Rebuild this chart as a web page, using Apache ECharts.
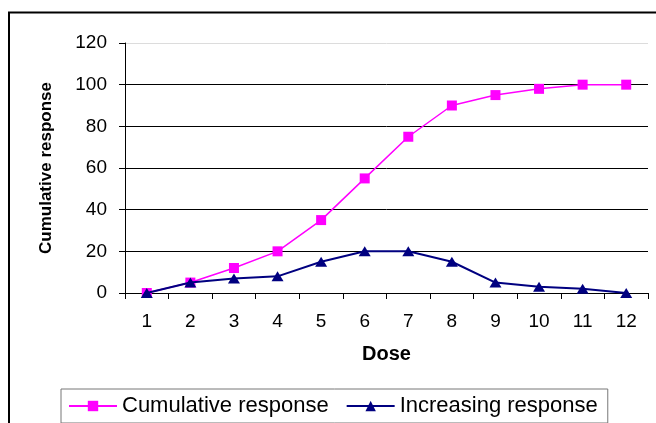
<!DOCTYPE html>
<html>
<head>
<meta charset="utf-8">
<script src="https://cdn.jsdelivr.net/npm/echarts@6/dist/echarts.min.js"></script>
<style>
  html, body { margin: 0; padding: 0; background: #fff; }
  #chart { width: 656px; height: 423px; }
</style>
</head>
<body>
<div id="chart"></div>
<script>
// Dose levels and the two response curves
const doses = ['1', '2', '3', '4', '5', '6', '7', '8', '9', '10', '11', '12'];
const cumulativeResponse = [0, 5, 12, 20, 35, 55, 75, 90, 95, 98, 100, 100];
const increasingResponse = [0, 5, 7, 8, 15, 20, 20, 15, 5, 3, 2, 0];
const seriesNames = ['Cumulative response', 'Increasing response'];

const FONT = '"Liberation Sans", Arial, sans-serif';

const chart = echarts.init(document.getElementById('chart'), null, { renderer: 'canvas' });

chart.setOption({
  backgroundColor: '#ffffff',
  animation: false,
  textStyle: { fontFamily: FONT },
  graphic: [{
    type: 'rect',
    silent: true,
    z: -10,
    shape: { x: 9, y: 12.5, width: 720, height: 500 },
    style: { fill: 'none', stroke: '#000', lineWidth: 2 }
  }],
  grid: { left: 125, top: 43, width: 523, height: 250, containLabel: false },
  legend: {
    left: 61,
    top: 389,
    padding: [6, 10, 6, 7],
    itemGap: 17,
    itemWidth: 48,
    itemHeight: 13,
    borderColor: '#777',
    borderWidth: 1,
    borderRadius: 0,
    backgroundColor: '#fff',
    textStyle: { fontFamily: FONT, fontSize: 22, color: '#000' },
    data: seriesNames
  },
  xAxis: {
    type: 'category',
    data: doses,
    boundaryGap: true,
    name: 'Dose',
    nameLocation: 'middle',
    nameGap: 51,
    nameTextStyle: { fontFamily: FONT, fontSize: 20, fontWeight: 'bold', color: '#000' },
    axisLine: { lineStyle: { color: '#000', width: 1 } },
    axisTick: { show: true, length: 6, alignWithLabel: false, lineStyle: { color: '#000' } },
    axisLabel: { margin: 19, fontFamily: FONT, fontSize: 19, color: '#000' },
    splitLine: { show: false }
  },
  yAxis: {
    type: 'value',
    min: 0,
    max: 120,
    interval: 20,
    name: 'Cumulative response',
    nameLocation: 'middle',
    nameGap: 70,
    nameRotate: 90,
    nameTextStyle: { fontFamily: FONT, fontSize: 17, fontWeight: 'bold', color: '#000' },
    axisLine: { show: true, lineStyle: { color: '#000', width: 1 } },
    axisTick: { show: true, length: 6, lineStyle: { color: '#000' } },
    axisLabel: { margin: 18, fontFamily: FONT, fontSize: 19, color: '#000' },
    splitLine: {
      show: true,
      lineStyle: {
        width: 1,
        color: ['#000', '#000', '#000', '#000', '#000', '#000', '#dcdcdc']
      }
    }
  },
  series: [
    {
      name: seriesNames[0],
      type: 'line',
      data: cumulativeResponse,
      symbol: 'rect',
      symbolSize: 10,
      showAllSymbol: true,
      itemStyle: { color: '#ff00ff' },
      lineStyle: { color: '#ff00ff', width: 1.5 },
      z: 2
    },
    {
      name: seriesNames[1],
      type: 'line',
      data: increasingResponse,
      symbol: 'triangle',
      symbolSize: [12, 10],
      showAllSymbol: true,
      itemStyle: { color: '#000080' },
      lineStyle: { color: '#000080', width: 2 },
      z: 3
    }
  ]
});
</script>
</body>
</html>
